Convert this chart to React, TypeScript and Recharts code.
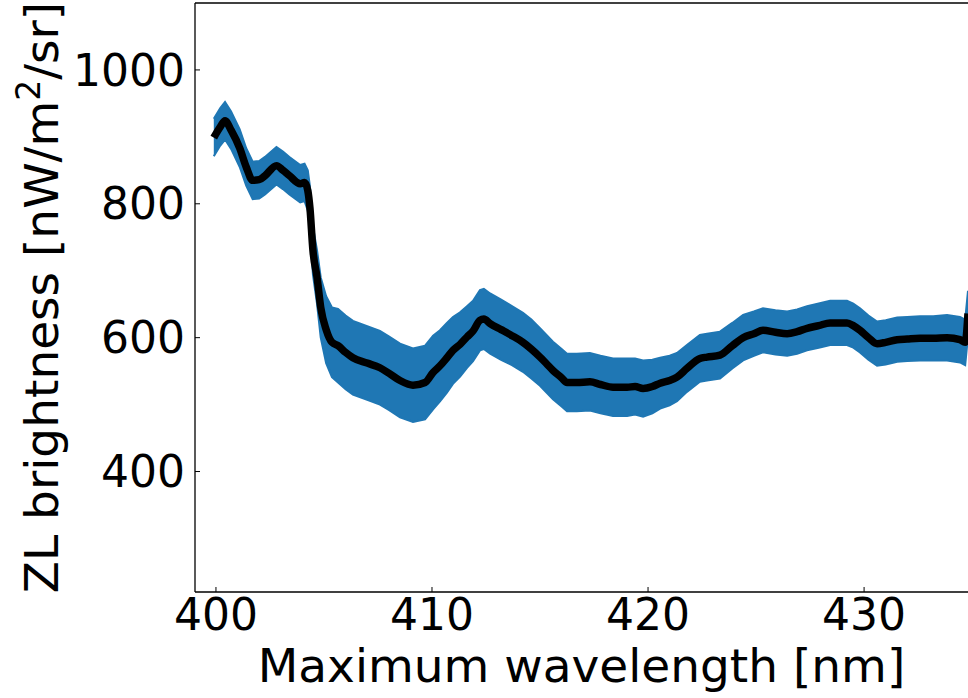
import { ComposedChart, Area, Line, XAxis, YAxis, ReferenceLine, Label } from "recharts";

// wavelength [nm], ZL brightness [nW/m^2/sr], 1-sigma error
const wavelength = [
  399.9, 400.2, 400.42, 400.7, 401.1, 401.4, 401.7, 402.0, 402.27, 402.8,
  403.1, 403.4, 403.9, 404.1, 404.25, 404.35, 404.49, 404.68, 404.85, 405.1,
  405.37, 405.65, 406.0, 406.34, 407.0, 407.59, 408.0, 408.52, 409.12, 409.68,
  410.05, 410.37, 410.69, 410.97, 411.3, 411.62, 411.9, 412.22, 412.4, 412.69,
  413.2, 413.7, 414.21, 414.6, 415.0, 415.3, 415.6, 416.0, 416.25, 416.7,
  417.31, 417.8, 418.38, 419.03, 419.4, 419.77, 420.2, 420.56, 421.0, 421.34,
  421.8, 422.4, 422.73, 423.33, 423.9, 424.4, 424.9, 425.32, 425.9, 426.44,
  426.9, 427.36, 427.9, 428.43, 429.21, 429.5, 429.81, 430.2, 430.6, 431.0,
  431.53, 432.0, 432.59, 433.2, 433.84, 434.44, 434.68, 434.81,
];
const brightness = [
  899, 915, 924, 910, 883, 855, 835, 836, 842, 857,
  850, 842, 830, 832, 820, 794, 730, 690, 645, 612,
  593, 588, 578, 570, 562, 555, 547, 536, 529, 533,
  548, 558, 570, 581, 590, 601, 610, 626, 628, 621,
  612, 603, 593, 583, 571, 561, 551, 540, 533, 533,
  534, 530, 526, 526, 527, 524, 527, 532, 536, 541,
  554, 569, 571, 574, 588, 600, 606, 611, 608, 606,
  609, 614, 618, 622, 622, 618, 611, 600, 591, 593,
  597, 598, 599, 599, 600, 597, 593, 636,
];
const errors = [
  28, 28, 28, 28, 28, 28, 28, 28, 28, 28,
  28, 28, 28, 28, 30, 32, 36, 40, 45, 50,
  52, 55, 55, 55, 55, 55, 55, 55, 55, 55,
  55, 53, 52, 50, 48, 46, 45, 45, 45, 45,
  45, 44, 44, 44, 43, 43, 43, 43, 43, 43,
  43, 43, 43, 43, 42, 42, 40, 38, 37, 36,
  35, 35, 35, 35, 34, 34, 33, 33, 33, 33,
  33, 33, 33, 33, 33, 33, 33, 33, 33, 33,
  33, 33, 33, 33, 34, 34, 34, 34,
];
const xTicks = [400, 410, 420, 430];
const yTicks = [400, 600, 800, 1000];

const data = wavelength.map((wl, i) => ({
  wl,
  zl: brightness[i],
  band: [brightness[i] - errors[i], brightness[i] + errors[i]],
}));

const FONT = "DejaVu Sans";
const tickStyle = { fill: "#000", fontSize: 44, fontFamily: FONT };

function YLabel(props: any) {
  const vb = props.viewBox;
  const x = vb.x + 58;
  const y = vb.y + vb.height / 2;
  return (
    <text x={x} y={y} transform={`rotate(-90, ${x}, ${y})`} textAnchor="middle"
      fill="#000" fontSize={47} fontFamily={FONT}>
      ZL brightness [nW/m<tspan fontSize={33} dy={-18}>2</tspan><tspan dy={18}>/sr]</tspan>
    </text>
  );
}

export default function App() {
  return (
    <div style={{ position: "absolute", left: 0, top: 0, width: 968, height: 698, background: "#fff" }}>
      <ComposedChart width={968} height={698} data={data}
        margin={{ top: 3, right: 0, left: 0, bottom: 0 }}>
        <XAxis type="number" dataKey="wl" domain={[399.03, 434.81]} allowDataOverflow
          ticks={xTicks} height={106} tickSize={-5} tickMargin={12}
          tick={tickStyle} stroke="#000" axisLine={{ stroke: "#000", strokeWidth: 1.3 }}>
          <Label value="Maximum wavelength [nm]" position="insideBottom" offset={16}
            fill="#000" fontSize={47} fontFamily={FONT} />
        </XAxis>
        <YAxis type="number" domain={[220, 1100]} allowDataOverflow ticks={yTicks}
          width={195} tickSize={-5} tickMargin={15} tick={tickStyle} stroke="#000"
          axisLine={{ stroke: "#000", strokeWidth: 1.3 }}>
          <Label content={<YLabel />} />
        </YAxis>
        <ReferenceLine y={1100} stroke="#000" strokeWidth={1.3} />
        <Area type="linear" dataKey="band" stroke="#1f77b4" strokeWidth={2}
          fill="#1f77b4" fillOpacity={1} isAnimationActive={false} dot={false} activeDot={false} />
        <Line type="monotone" dataKey="zl" stroke="#000" strokeWidth={7.5}
          dot={false} activeDot={false} isAnimationActive={false} />
      </ComposedChart>
    </div>
  );
}
